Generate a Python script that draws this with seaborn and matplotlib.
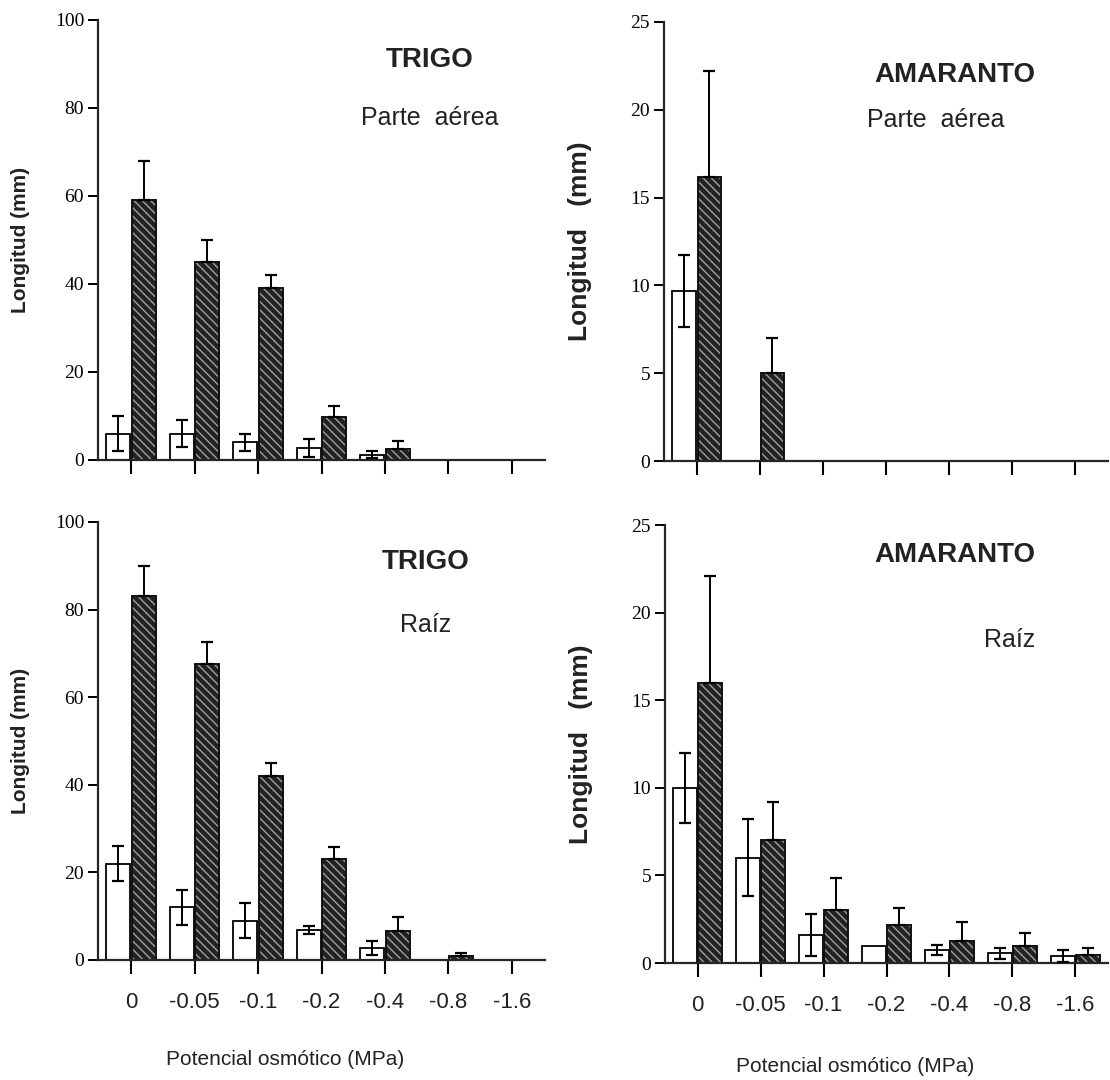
import matplotlib
matplotlib.use("Agg")
import matplotlib.pyplot as plt
from matplotlib.patches import Rectangle
import numpy as np
import pandas as pd
import seaborn as sns

# ---------------- data ----------------
categorias = ["0", "-0.05", "-0.1", "-0.2", "-0.4", "-0.8", "-1.6"]
tratamientos = ["Tratamiento A", "Tratamiento B"]

trigo_aerea_a = [6.0, 6.0, 4.0, 2.7, 1.2, 0.0, 0.0]
trigo_aerea_a_err = [4.0, 3.0, 2.0, 2.0, 0.8, 0.0, 0.0]
trigo_aerea_b = [59.0, 45.0, 39.0, 9.8, 2.6, 0.0, 0.0]
trigo_aerea_b_err = [9.0, 5.0, 3.0, 2.5, 1.8, 0.0, 0.0]

trigo_raiz_a = [22.0, 12.0, 9.0, 6.8, 2.8, 0.0, 0.0]
trigo_raiz_a_err = [4.0, 4.0, 4.0, 0.9, 1.6, 0.0, 0.0]
trigo_raiz_b = [83.0, 67.5, 42.0, 23.0, 6.6, 0.8, 0.0]
trigo_raiz_b_err = [7.0, 5.0, 3.0, 2.8, 3.2, 0.7, 0.0]

amaranto_aerea_a = [9.7, 0.0, 0.0, 0.0, 0.0, 0.0, 0.0]
amaranto_aerea_a_err = [2.05, 0.0, 0.0, 0.0, 0.0, 0.0, 0.0]
amaranto_aerea_b = [16.2, 5.0, 0.0, 0.0, 0.0, 0.0, 0.0]
amaranto_aerea_b_err = [6.0, 2.0, 0.0, 0.0, 0.0, 0.0, 0.0]

amaranto_raiz_a = [10.0, 6.0, 1.6, 0.95, 0.75, 0.55, 0.4]
amaranto_raiz_a_err = [2.0, 2.2, 1.2, 0.0, 0.3, 0.3, 0.35]
amaranto_raiz_b = [16.0, 7.0, 3.0, 2.15, 1.25, 0.95, 0.45]
amaranto_raiz_b_err = [6.1, 2.2, 1.85, 1.0, 1.1, 0.75, 0.4]

trigo_yticks = [0, 20, 40, 60, 80, 100]
amaranto_yticks = [0, 5, 10, 15, 20, 25]

xlabel_text = "Potencial osmótico (MPa)"

# ---------------- style ----------------
sns.set_theme(style="ticks")
plt.rcParams["font.family"] = ["Liberation Sans", "DejaVu Sans"]
plt.rcParams["hatch.linewidth"] = 1.0
plt.rcParams["axes.linewidth"] = 1.6

fig = plt.figure(figsize=(11.1, 10.8), dpi=100)
fig.patch.set_facecolor("white")

H = 1080.0
W = 1110.0


def axes_px(x0, x1, ytop, ybot):
    return fig.add_axes([x0 / W, 1 - ybot / H, (x1 - x0) / W, (ybot - ytop) / H])


ax_tl = axes_px(98, 545, 20, 460)
ax_bl = axes_px(98, 545, 522, 960)
ax_tr = axes_px(664, 1108, 22, 461)
ax_br = axes_px(665, 1108, 525, 963)

DARK = "#222222"


def panel(ax, a, a_err, b, b_err, ymax, yticks, show_x, big_ylabel):
    df = pd.DataFrame({
        "Potencial": categorias * 2,
        "Tratamiento": [t for t in tratamientos for _ in categorias],
        "Longitud": list(a) + list(b),
    })
    sns.barplot(data=df, x="Potencial", y="Longitud", hue="Tratamiento",
                order=categorias, hue_order=tratamientos,
                palette=["white", DARK], saturation=1,
                errorbar=None, width=0.8, gap=0.06, legend=False, ax=ax)
    cont_a, cont_b = ax.containers[0], ax.containers[1]
    for p in cont_a.patches:
        p.set_edgecolor("black")
        p.set_linewidth(1.3)
        p.set_zorder(2)
    for p in cont_b.patches:
        p.set_facecolor(DARK)
        p.set_edgecolor("#a0a0a0")
        p.set_hatch("\\\\\\\\")
        p.set_linewidth(0)
        p.set_zorder(2)
        if p.get_height() > 0:
            # dark outline following the seaborn bar
            ax.add_patch(Rectangle((p.get_x(), p.get_y()), p.get_width(),
                                   p.get_height(), fill=False,
                                   edgecolor="#111111", linewidth=1.4,
                                   zorder=2.5))

    xa = np.array([p.get_x() + p.get_width() / 2 for p in cont_a.patches])
    xb = np.array([p.get_x() + p.get_width() / 2 for p in cont_b.patches])
    a = np.array(a); a_err = np.array(a_err)
    b = np.array(b); b_err = np.array(b_err)
    ma = a_err > 0
    mb = b_err > 0
    if ma.any():
        ax.errorbar(xa[ma], a[ma], yerr=a_err[ma], fmt="none", ecolor="black",
                    elinewidth=1.4, capsize=4.5, capthick=1.6, zorder=3)
    if mb.any():
        ax.errorbar(xb[mb], b[mb], yerr=[np.zeros(mb.sum()), b_err[mb]],
                    fmt="none", ecolor="black", elinewidth=1.4, capsize=4.5,
                    capthick=1.6, zorder=3)

    ax.set_xlim(-0.52, 6.52)
    ax.set_ylim(0, ymax)
    ax.set_yticks(yticks)
    ax.set_yticklabels([str(t) for t in yticks], fontfamily="Liberation Serif",
                       fontsize=14)
    ax.spines["top"].set_visible(False)
    ax.spines["right"].set_visible(False)
    ax.tick_params(axis="y", length=7, width=1.4, direction="out", pad=3,
                   colors="black")
    ax.tick_params(axis="x", length=10, width=1.5, direction="out", pad=13,
                   colors="black", labelbottom=show_x)
    if show_x:
        ax.set_xticklabels(categorias, fontsize=16, color="#222222")
        ax.set_xlabel(xlabel_text, fontsize=15, color="#222222")
    else:
        ax.set_xlabel("")
    if big_ylabel:
        ax.set_ylabel("Longitud   (mm)", fontsize=19, fontweight="bold",
                      color="#222222")
    else:
        ax.set_ylabel("Longitud (mm)", fontsize=15, fontweight="bold",
                      color="#222222")
    ax.set_facecolor("white")


panel(ax_tl, trigo_aerea_a, trigo_aerea_a_err, trigo_aerea_b, trigo_aerea_b_err,
      100, trigo_yticks, False, False)
panel(ax_bl, trigo_raiz_a, trigo_raiz_a_err, trigo_raiz_b, trigo_raiz_b_err,
      100, trigo_yticks, True, False)
panel(ax_tr, amaranto_aerea_a, amaranto_aerea_a_err, amaranto_aerea_b,
      amaranto_aerea_b_err, 25, amaranto_yticks, False, True)
panel(ax_br, amaranto_raiz_a, amaranto_raiz_a_err, amaranto_raiz_b,
      amaranto_raiz_b_err, 25, amaranto_yticks, True, True)

# label positions
ax_tl.yaxis.set_label_coords(-0.152, 0.5)
ax_bl.yaxis.set_label_coords(-0.152, 0.5)
ax_tr.yaxis.set_label_coords(-0.163, 0.5)
ax_br.yaxis.set_label_coords(-0.163, 0.5)
ax_bl.xaxis.set_label_coords(0.418, -0.205)
ax_br.xaxis.set_label_coords(0.43, -0.215)

# panel annotations
kw_b = dict(ha="center", va="center", fontsize=20, fontweight="bold",
            color="#222222")
kw_r = dict(ha="center", va="center", fontsize=18, color="#222222")
ax_tl.text(0.743, 0.909, "TRIGO", transform=ax_tl.transAxes, **kw_b)
ax_tl.text(0.743, 0.777, "Parte  aérea", transform=ax_tl.transAxes, **kw_r)
ax_tr.text(0.656, 0.879, "AMARANTO", transform=ax_tr.transAxes, **kw_b)
ax_tr.text(0.611, 0.777, "Parte  aérea", transform=ax_tr.transAxes, **kw_r)
ax_bl.text(0.732, 0.909, "TRIGO", transform=ax_bl.transAxes, **kw_b)
ax_bl.text(0.732, 0.765, "Raíz", transform=ax_bl.transAxes, **kw_r)
ax_br.text(0.655, 0.932, "AMARANTO", transform=ax_br.transAxes, **kw_b)
ax_br.text(0.779, 0.737, "Raíz", transform=ax_br.transAxes, **kw_r)

fig.savefig("out.png", dpi=100, facecolor="white")
